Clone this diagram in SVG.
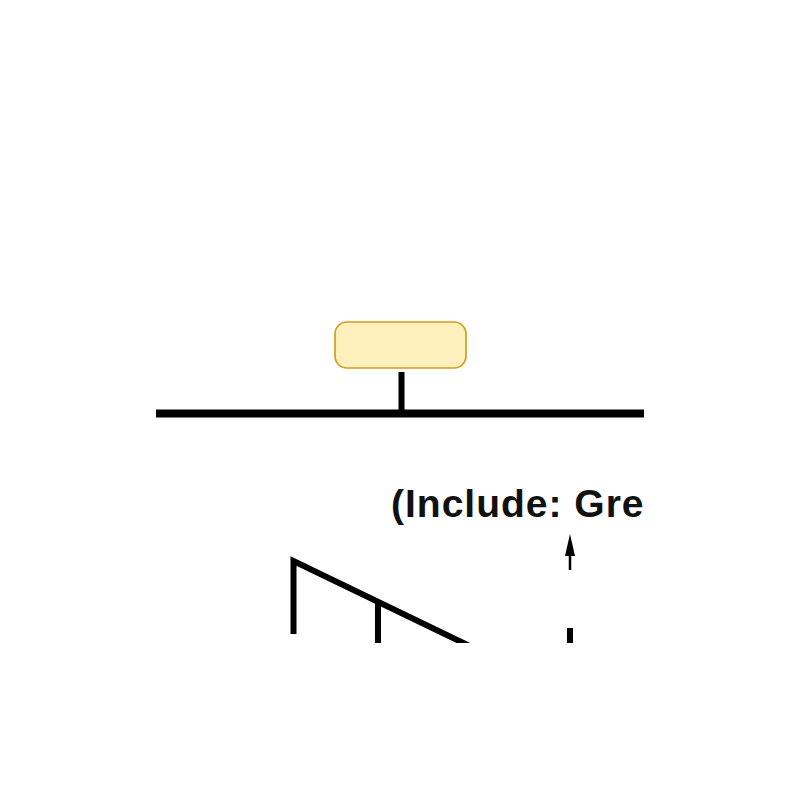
<svg xmlns="http://www.w3.org/2000/svg" width="800" height="800" viewBox="0 0 800 800">
<style>
.ln{stroke:#000;fill:none;stroke-linecap:butt;stroke-linejoin:miter}
.lbl{font-family:"Liberation Sans",Arial,sans-serif;font-weight:bold;font-size:39px;letter-spacing:1px;fill:#111}
</style>
<defs>
<clipPath id="clip"><rect x="156" y="0" width="488" height="643"/></clipPath>
</defs>
<rect width="800" height="800" fill="#fff"/>
<g clip-path="url(#clip)">
<g id="node-box">
<rect x="335" y="322" width="131" height="46" rx="12" ry="12" fill="#FFF0BD" stroke="#D69C1A" stroke-width="1.7"/>
</g>
<g id="connectors">
<line class="ln" x1="401.5" y1="372" x2="401.5" y2="414" stroke-width="6"/>
<line class="ln" x1="156" y1="413.5" x2="644" y2="413.5" stroke-width="8"/>
<line class="ln" x1="570" y1="570" x2="570" y2="553" stroke-width="2.5"/>
<path d="M565,556 L570,534 L575,556 Z" fill="#000"/>
<line class="ln" x1="570" y1="628" x2="570" y2="650" stroke-width="6"/>
<path class="ln" d="M293.5,634 L293.5,561 L480,651" stroke-width="6"/>
<line class="ln" x1="378" y1="602" x2="378" y2="650" stroke-width="6"/>
</g>
<g id="label">
<text class="lbl" x="391" y="517">(Include: Gre</text>
</g>
</g>
</svg>
